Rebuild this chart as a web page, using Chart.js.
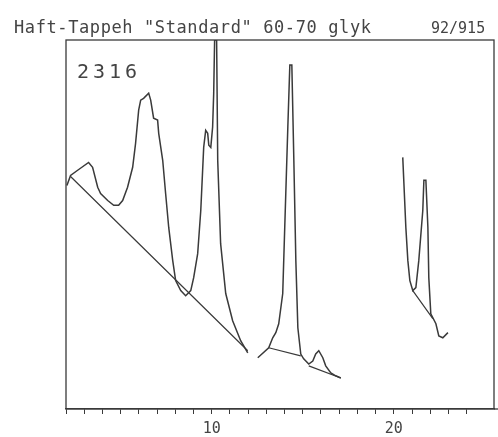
<!DOCTYPE html>
<html>
<head>
<meta charset="utf-8">
<script src="https://cdn.jsdelivr.net/npm/chart.js@4.4.1/dist/chart.umd.min.js"></script>
<style>
  html, body { margin: 0; padding: 0; background: #fff; }
  #wrap { width: 498px; height: 437px; position: relative; }
</style>
</head>
<body>
<div id="wrap"><canvas id="chromChart"></canvas></div>
<script>
// retention time (min) and detector signal (% of full scale)
const seg1Time = [2.05, 2.25, 2.64, 3.24, 3.46, 3.74, 3.90, 4.29, 4.62, 4.89, 5.11, 5.38, 5.66, 5.82, 5.99, 6.10, 6.26, 6.54, 6.65, 6.81, 7.03, 7.09, 7.31, 7.47, 7.64, 7.86, 8.02, 8.30, 8.57, 8.85, 9.01, 9.23, 9.40, 9.56, 9.67, 9.78, 9.84, 9.95, 10.05, 10.11, 10.16, 10.27, 10.33, 10.49, 10.77, 11.15, 11.59, 11.98];
const seg1Signal = [60.6, 63.3, 64.7, 66.8, 65.5, 60.1, 58.4, 56.5, 55.2, 55.2, 56.5, 60.1, 65.5, 72.0, 81.0, 83.7, 84.2, 85.6, 83.7, 78.8, 78.3, 74.7, 67.4, 58.4, 49.2, 40.2, 34.8, 32.1, 30.7, 32.1, 35.6, 42.1, 53.8, 70.9, 75.5, 74.7, 71.5, 70.9, 76.4, 85.6, 100, 100, 67.4, 44.8, 31.3, 23.9, 18.5, 15.2];

const seg2Time = [12.53, 13.13, 13.35, 13.52, 13.68, 13.90, 14.01, 14.18, 14.29, 14.40, 14.51, 14.62, 14.73, 14.89, 15.05, 15.33, 15.55, 15.71, 15.88, 16.10, 16.26, 16.54, 16.81, 17.09];
const seg2Signal = [13.9, 16.6, 19.3, 20.7, 23.1, 31.3, 49.2, 76.4, 93.2, 93.2, 67.4, 40.2, 22.0, 14.9, 13.6, 12.2, 13.0, 14.9, 15.8, 13.9, 11.7, 9.8, 9.0, 8.4];

const seg3Time = [20.49, 20.66, 20.77, 20.88, 21.04, 21.21, 21.37, 21.59, 21.65, 21.76, 21.87, 21.92, 22.03, 22.31, 22.47, 22.69, 22.97];
const seg3Signal = [68.2, 49.2, 40.2, 34.8, 32.1, 32.9, 40.2, 53.8, 62.0, 62.0, 49.2, 35.6, 25.8, 23.1, 19.8, 19.3, 20.7];

// integration baselines (null = pen lifted)
const baseTime = [2.25, 11.98, null, 13.13, 14.89, null, 15.33, 17.09, null, 21.04, 22.14];
const baseSignal = [63.0, 15.8, null, 16.6, 14.4, null, 11.7, 8.4, null, 32.1, 24.5];

const labelledTicks = [10, 20];
const titleText = 'Haft-Tappeh "Standard" 60-70 glyk';
const runNumber = "92/915";
const sampleId = "2316";

const ink = "#3a3a3a";

function toPoints(xs, ys) {
  return xs.map((x, i) => (x === null ? { x: NaN, y: null } : { x: x, y: ys[i] }));
}

const textPlugin = {
  id: "textPlugin",
  afterDraw(chart) {
    const ctx = chart.ctx;
    const a = chart.chartArea;
    ctx.save();
    ctx.strokeStyle = ink;
    ctx.lineWidth = 1.3;
    ctx.strokeRect(a.left, a.top, a.right - a.left, a.bottom - a.top);
    ctx.beginPath();
    ctx.moveTo(a.right, a.bottom);
    ctx.lineTo(chart.width, a.bottom);
    ctx.stroke();

    ctx.fillStyle = "#444";
    ctx.textBaseline = "alphabetic";
    ctx.font = "17px 'DejaVu Sans Mono'";
    ctx.letterSpacing = "0.6px";
    ctx.fillText(titleText, 14, 33);
    ctx.font = "15px 'DejaVu Sans Mono'";
    ctx.letterSpacing = "0px";
    ctx.fillText(runNumber, 431, 33);
    ctx.font = "20px 'DejaVu Sans Mono'";
    ctx.letterSpacing = "4px";
    ctx.fillText(sampleId, 77, 78);
    ctx.restore();
  }
};

new Chart(document.getElementById("chromChart"), {
  type: "line",
  data: {
    datasets: [
      { data: toPoints(seg1Time, seg1Signal) },
      { data: toPoints(seg2Time, seg2Signal) },
      { data: toPoints(seg3Time, seg3Signal) },
      { data: toPoints(baseTime, baseSignal), borderWidth: 1.2, spanGaps: false }
    ].map(ds => Object.assign({
      borderColor: ink,
      borderWidth: 1.5,
      pointRadius: 0,
      tension: 0,
      fill: false
    }, ds))
  },
  options: {
    responsive: true,
    maintainAspectRatio: false,
    animation: false,
    layout: { padding: { left: 66, right: 4, top: 40, bottom: -7 } },
    plugins: { legend: { display: false }, tooltip: { enabled: false } },
    scales: {
      x: {
        type: "linear",
        min: 2,
        max: 25.5,
        afterBuildTicks: (scale) => {
          scale.ticks = scale.ticks.filter(t => Number.isInteger(t.value));
        },
        ticks: {
          stepSize: 1,
          autoSkip: false,
          maxRotation: 0,
          padding: 6,
          color: "#444",
          font: { family: "DejaVu Sans Mono", size: 15 },
          callback: (v) => (labelledTicks.includes(v) ? String(v) : "")
        },
        grid: {
          drawOnChartArea: false,
          drawTicks: true,
          tickLength: 5,
          color: ink
        },
        border: { display: true, color: ink, width: 1.3 }
      },
      y: {
        display: false,
        min: 0,
        max: 100
      }
    }
  },
  plugins: [textPlugin]
});
</script>
</body>
</html>
